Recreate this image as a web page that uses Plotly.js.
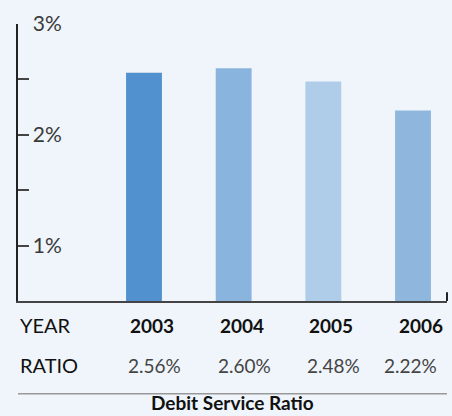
<!DOCTYPE html>
<html><head><meta charset="utf-8">
<script src="https://cdn.plot.ly/plotly-3.0.1.min.js"></script>
<style>html,body{margin:0;padding:0;background:#eff5fa;}</style>
</head><body><div id="chart" style="width:452px;height:416px;"></div>
<script>
const years = ['2003', '2004', '2005', '2006'];
const ratios = [2.56, 2.60, 2.48, 2.22];
const ratioLabels = ['2.56%', '2.60%', '2.48%', '2.22%'];
const barColors = ['#5191cf', '#89b4de', '#afcde9', '#8fb7de'];
const yTickVals = [1, 1.5, 2, 2.5, 3];
const yTickText = ['1%', '', '2%', '', '3%'];

const FONT = 'Lato, "Open Sans", sans-serif';
const annotations = [];
annotations.push({xref:'paper', yref:'paper', x:0, y:-0.088, xanchor:'left', yanchor:'middle',
  text:'YEAR', showarrow:false, font:{family:FONT, size:20, color:'#111'}});
annotations.push({xref:'paper', yref:'paper', x:0, y:-0.232, xanchor:'left', yanchor:'middle',
  text:'RATIO', showarrow:false, font:{family:FONT, size:20, color:'#111'}});
years.forEach((y, i) => {
  annotations.push({xref:'x', yref:'paper', x:i, y:-0.088, xanchor:'left', yanchor:'middle',
    xshift:-16, text:'<b>'+y+'</b>', showarrow:false, font:{family:FONT, size:19, color:'#111'}});
  const last = i === years.length - 1;
  annotations.push({xref:'x', yref:'paper', x:i, y:-0.232, xanchor:last?'right':'left', yanchor:'middle',
    xshift:last?26:-18, text:ratioLabels[i], showarrow:false, font:{family:FONT, size:19, color:'#444'}});
});
annotations.push({xref:'paper', yref:'paper', x:0.5, y:-0.368, xanchor:'center', yanchor:'middle',
  borderpad:0, text:'<b>Debit Service Ratio</b>', showarrow:false, font:{family:FONT, size:19, color:'#111'}});

const data = [{
  type:'bar', x:years, y:ratios, width:0.4,
  marker:{color:barColors, line:{width:0}},
  hoverinfo:'skip'
}];
const layout = {
  width:452, height:416,
  margin:{l:18, r:5, t:24, b:114.5, pad:0},
  paper_bgcolor:'#eff5fa', plot_bgcolor:'#eff5fa',
  showlegend:false,
  xaxis:{type:'category', range:[-1.405, 3.379], showline:true, linecolor:'#444', linewidth:2,
    showticklabels:false, ticks:'', showgrid:false, zeroline:false, fixedrange:true},
  yaxis:{range:[0.5, 3.0], tickvals:yTickVals, ticktext:yTickText, ticks:'inside', ticklen:11,
    tickwidth:2, tickcolor:'#444', showline:true, linecolor:'#222', linewidth:2,
    ticklabelposition:'inside', ticklabeloverflow:'allow', ticklabelstandoff:5,
    showgrid:false, zeroline:false,
    tickfont:{family:FONT, size:21, color:'#3a3a3a'}},
  shapes:[
    {type:'line', xref:'paper', yref:'paper', x0:0, x1:1, y0:-0.335, y1:-0.335, line:{color:'#999', width:1.5}},
    {type:'line', xref:'paper', yref:'y', x0:1, x1:1, y0:0.5, y1:0.58, line:{color:'#222', width:2}}
  ],
  annotations:annotations
};
Plotly.newPlot('chart', data, layout, {displayModeBar:false, staticPlot:true});
</script></body></html>
